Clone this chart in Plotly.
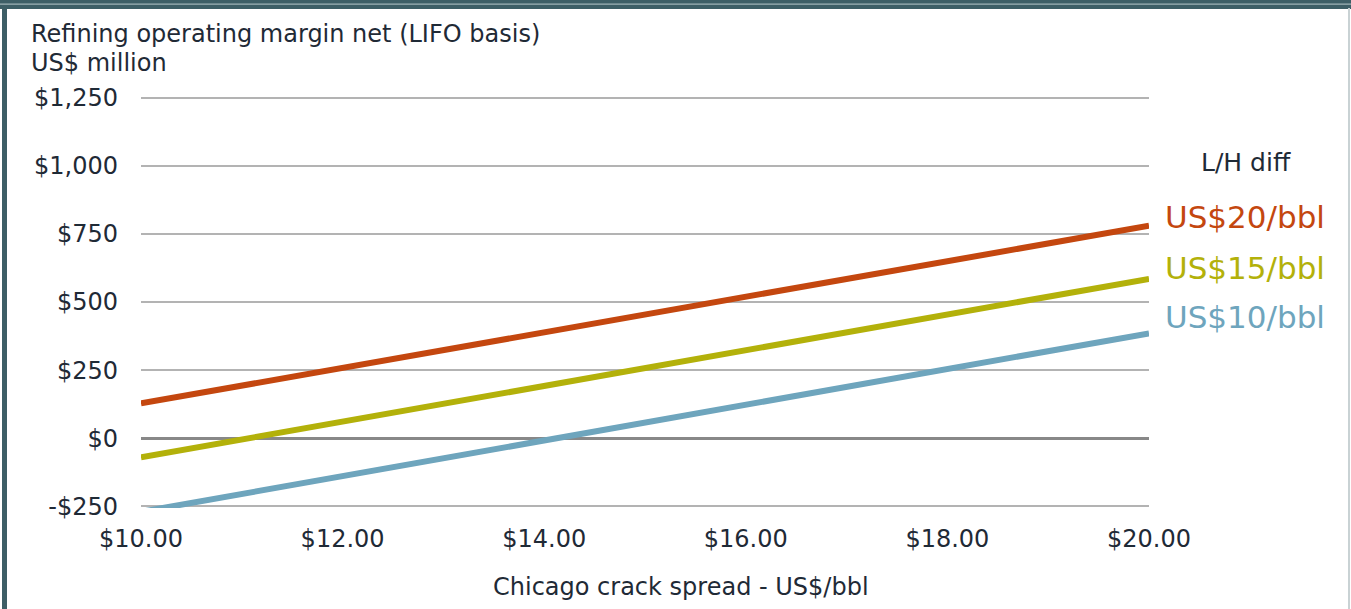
import plotly.graph_objects as go

# Sensitivity of refining operating margin to the Chicago crack spread
crack_spread = [10.0, 20.0]
margin_lh20 = [128, 780]
margin_lh15 = [-70, 585]
margin_lh10 = [-270, 385]

series_names = ["US$20/bbl", "US$15/bbl", "US$10/bbl"]
series_colors = ["#c4470f", "#b3b10a", "#6ea5bd"]

x_tickvals = [10, 12, 14, 16, 18, 20]
x_ticktext = ["$10.00", "$12.00", "$14.00", "$16.00", "$18.00", "$20.00"]
y_tickvals = [-250, 0, 250, 500, 750, 1000, 1250]
y_ticktext = ["-$250", "$0", "$250", "$500", "$750", "$1,000", "$1,250"]

W, H = 1351, 609
L, R, T, B = 141, 202, 96, 101
PW, PH = W - L - R, H - T - B


def px(x):
    return (x - L) / PW


def py(y):
    return (T + PH - y) / PH


FONT = "DejaVu Sans"
TXT = "#1f2a36"
GRID = "#b3b3b3"

fig = go.Figure()
for ys, name, col in zip([margin_lh20, margin_lh15, margin_lh10], series_names, series_colors):
    fig.add_trace(go.Scatter(x=crack_spread, y=ys, mode="lines", name=name,
                             line=dict(color=col, width=6), showlegend=False,
                             hoverinfo="skip"))

fig.update_xaxes(range=[10, 20], tickvals=x_tickvals, ticktext=x_ticktext,
                 showgrid=False, zeroline=False, showline=False, ticks="",
                 ticklabelstandoff=14,
                 tickfont=dict(family=FONT, size=24, color=TXT))
# a little padding keeps the outer gridlines (-250 and 1,250) inside the plot area
fig.update_yaxes(range=[-256, 1256], tickvals=y_tickvals, ticktext=y_ticktext,
                 showgrid=True, gridcolor=GRID, gridwidth=2,
                 zeroline=True, zerolinecolor="#888888", zerolinewidth=3,
                 showline=False, ticks="", ticklabelstandoff=22,
                 tickfont=dict(family=FONT, size=24, color=TXT))

annotations = [
    dict(text="Refining operating margin net (LIFO basis)", x=px(29), y=py(34),
         xanchor="left", yanchor="middle", font=dict(size=24)),
    dict(text="US$ million", x=px(29), y=py(63), xanchor="left", yanchor="middle",
         font=dict(size=24)),
    dict(text="Chicago crack spread - US$/bbl", x=px(681), y=py(587),
         xanchor="center", yanchor="middle", font=dict(size=24)),
    dict(text="L/H diff", x=px(1246), y=py(162), xanchor="center", yanchor="middle",
         font=dict(size=25)),
]
label_y = [217, 268, 317]
for name, col, ly in zip(series_names, series_colors, label_y):
    annotations.append(dict(text=name, x=px(1163), y=py(ly), xanchor="left",
                            yanchor="middle", font=dict(size=31, color=col)))
for a in annotations:
    a.update(xref="paper", yref="paper", showarrow=False)
    a["font"].setdefault("color", TXT)
    a["font"]["family"] = FONT

# frame around the panel
shapes = [
    dict(type="rect", x0=px(0), x1=px(W), y0=py(0), y1=py(9),
         fillcolor="#3d5e66", line=dict(width=0)),
    dict(type="rect", x0=px(0), x1=px(W), y0=py(3.5), y1=py(4.8),
         fillcolor="#9fb3b7", line=dict(width=0)),
    dict(type="rect", x0=px(2), x1=px(7), y0=py(8), y1=py(H),
         fillcolor="#3d5e66", line=dict(width=0)),
    dict(type="rect", x0=px(1348), x1=px(1350), y0=py(8), y1=py(H),
         fillcolor="#c9d2d4", line=dict(width=0)),
]
for s in shapes:
    s.update(xref="paper", yref="paper", layer="above")

fig.update_layout(width=W, height=H, margin=dict(l=L, r=R, t=T, b=B),
                  paper_bgcolor="white", plot_bgcolor="white",
                  annotations=annotations, shapes=shapes,
                  font=dict(family=FONT, color=TXT))

fig.write_html("out.html", config={"displayModeBar": False})
